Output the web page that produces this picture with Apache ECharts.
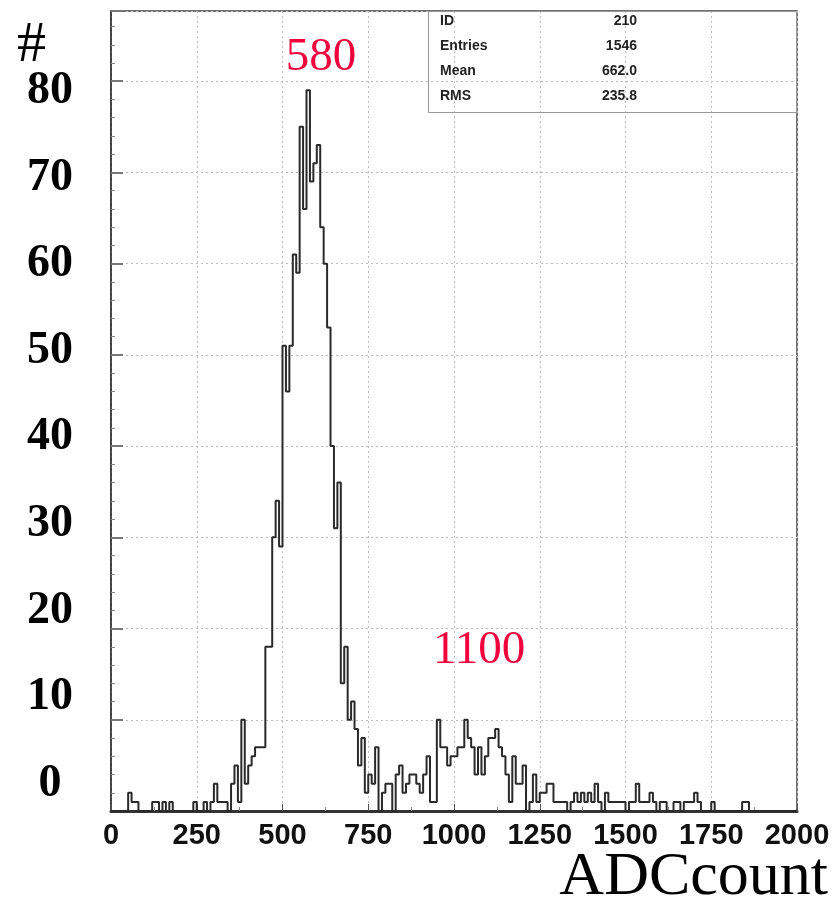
<!DOCTYPE html>
<html>
<head>
<meta charset="utf-8">
<script src="https://cdn.jsdelivr.net/npm/echarts@6/dist/echarts.min.js"></script>
<style>
  html, body { margin: 0; padding: 0; background: #fff; }
  #Chart { width: 838px; height: 903px; }
</style>
</head>
<body>
<div id="Chart"></div>
<script>
// histogram bins, width 10 ADC counts, starting at 0
var binWidth = 10;
var counts = [
    0, 0, 0, 0, 0, 2, 1, 1, 0, 0,         // 0 - 90
    0, 0, 1, 1, 0, 1, 0, 1, 0, 0,         // 100 - 190
    0, 0, 0, 0, 1, 0, 0, 1, 0, 1,         // 200 - 290
    3, 1, 1, 1, 0, 3, 5, 1, 10, 3,        // 300 - 390
    5, 6, 7, 7, 7, 18, 18, 30, 34, 29,    // 400 - 490
    51, 46, 51, 61, 59, 75, 66, 79, 69, 71, // 500 - 590
    73, 64, 60, 53, 40, 31, 36, 14, 18, 10, // 600 - 690
    12, 9, 5, 8, 2, 4, 3, 7, 0, 2,        // 700 - 790
    3, 3, 0, 4, 5, 2, 3, 4, 4, 3,         // 800 - 890
    2, 4, 6, 1, 1, 10, 7, 7, 5, 6,        // 900 - 990
    6, 7, 7, 10, 8, 7, 4, 7, 4, 6,        // 1000 - 1090
    8, 8, 9, 7, 6, 4, 1, 6, 3, 3,         // 1100 - 1190
    5, 0, 1, 4, 1, 2, 2, 3, 3, 1,         // 1200 - 1290
    1, 1, 1, 0, 1, 2, 1, 2, 1, 2,         // 1300 - 1390
    1, 3, 1, 0, 2, 1, 1, 1, 1, 1,         // 1400 - 1490
    0, 1, 1, 3, 1, 1, 1, 2, 1, 0,         // 1500 - 1590
    1, 1, 0, 0, 1, 1, 0, 1, 1, 1,         // 1600 - 1690
    2, 1, 0, 0, 0, 1, 0, 0, 0, 0,         // 1700 - 1790
    0, 0, 0, 0, 1, 1, 0, 0, 0, 0,         // 1800 - 1890
    0, 0, 0, 0, 0, 0, 0, 0, 0, 0          // 1900 - 1990
];
var statNames = ['ID', 'Entries', 'Mean', 'RMS'];
var statValues = ['210', '1546', '662.0', '235.8'];
var peakNames = ['580', '1100'];
var peakCoords = [[612, 82.6], [1073, 17.6]];

window.onload = () => {
    var myChart = echarts.init(document.getElementById('Chart'));

    var steps = counts.map((c, i) => [i * binWidth, c]);
    steps.push([counts.length * binWidth, counts[counts.length - 1]]);

    var statText = statNames.map((n, i) => '{k|' + n + '}{v|' + statValues[i] + '}').join('\n');

    var gridLine = { show: true, lineStyle: { color: '#bdbdbd', type: [2, 3], width: 1 } };

    myChart.setOption({
        animation: false,
        title: [
            { text: '#', left: 12, top: 12,
              textStyle: { fontFamily: 'Liberation Serif', fontWeight: 'normal', fontSize: 58, color: '#000' } },
            { text: 'ADCcount', right: 5, top: 842,
              textStyle: { fontFamily: 'Liberation Serif', fontWeight: 'normal', fontSize: 62, color: '#000' } },
            { text: statText, left: 428, top: 6,
              padding: [3, 160, 9, 12],
              borderColor: '#999', borderWidth: 1,
              textStyle: {
                  rich: {
                      k: { width: 120, align: 'left', fontFamily: 'Liberation Sans', fontWeight: 'bold', fontSize: 14, color: '#222', lineHeight: 25 },
                      v: { width: 77, align: 'right', fontFamily: 'Liberation Sans', fontWeight: 'bold', fontSize: 14, color: '#222', lineHeight: 25 }
                  }
              } }
        ],
        grid: [
            { left: 111, right: 41, top: 11, bottom: 92, show: true, borderColor: '#444', borderWidth: 1.5 },
            // only carries the (offset) y labels
            { left: 111, right: 41, top: 91, bottom: 119 }
        ],
        xAxis: [
            {
                type: 'value', gridIndex: 0, min: 0, max: 2000, interval: 250,
                axisLine: { onZero: false, lineStyle: { color: '#333', width: 3 } },
                axisTick: { inside: true, length: 7, lineStyle: { color: '#555' } },
                minorTick: { show: true, splitNumber: 2, length: 4, lineStyle: { color: '#888' } },
                splitLine: gridLine,
                axisLabel: { fontFamily: 'Liberation Sans', fontWeight: 'bold', fontSize: 29, color: '#111', margin: 10,
                             formatter: v => String(v) }
            },
            { type: 'value', gridIndex: 1, min: 0, max: 2000, show: false }
        ],
        yAxis: [
            {
                type: 'value', gridIndex: 0, min: 0, max: 87.7, interval: 10,
                axisLine: { show: true, lineStyle: { color: '#333', width: 1.5 } },
                axisTick: { inside: true, length: 12, lineStyle: { color: '#777', width: 2 } },
                minorTick: { show: true, splitNumber: 5, length: 4, lineStyle: { color: '#888' } },
                splitLine: gridLine,
                axisLabel: { show: false }
            },
            {
                type: 'value', gridIndex: 1, min: 0, max: 80, interval: 10,
                axisLine: { show: false }, axisTick: { show: false }, splitLine: { show: false },
                axisLabel: { fontFamily: 'Liberation Serif', fontWeight: 'bold', fontSize: 46, color: '#000', align: 'center', margin: 61 }
            }
        ],
        series: [{
            name: 'ID 210',
            type: 'line',
            step: 'end',
            xAxisIndex: 0, yAxisIndex: 0,
            showSymbol: false,
            symbol: 'none',
            lineStyle: { color: '#2a2a2a', width: 2 },
            data: steps,
            markPoint: {
                symbol: 'circle', symbolSize: 0,
                label: { show: true, formatter: '{b}', color: '#f0003c', fontFamily: 'Liberation Serif', fontSize: 47 },
                data: peakNames.map((n, i) => ({ name: n, coord: peakCoords[i] }))
            }
        }]
    });
}
</script>
</body>
</html>
